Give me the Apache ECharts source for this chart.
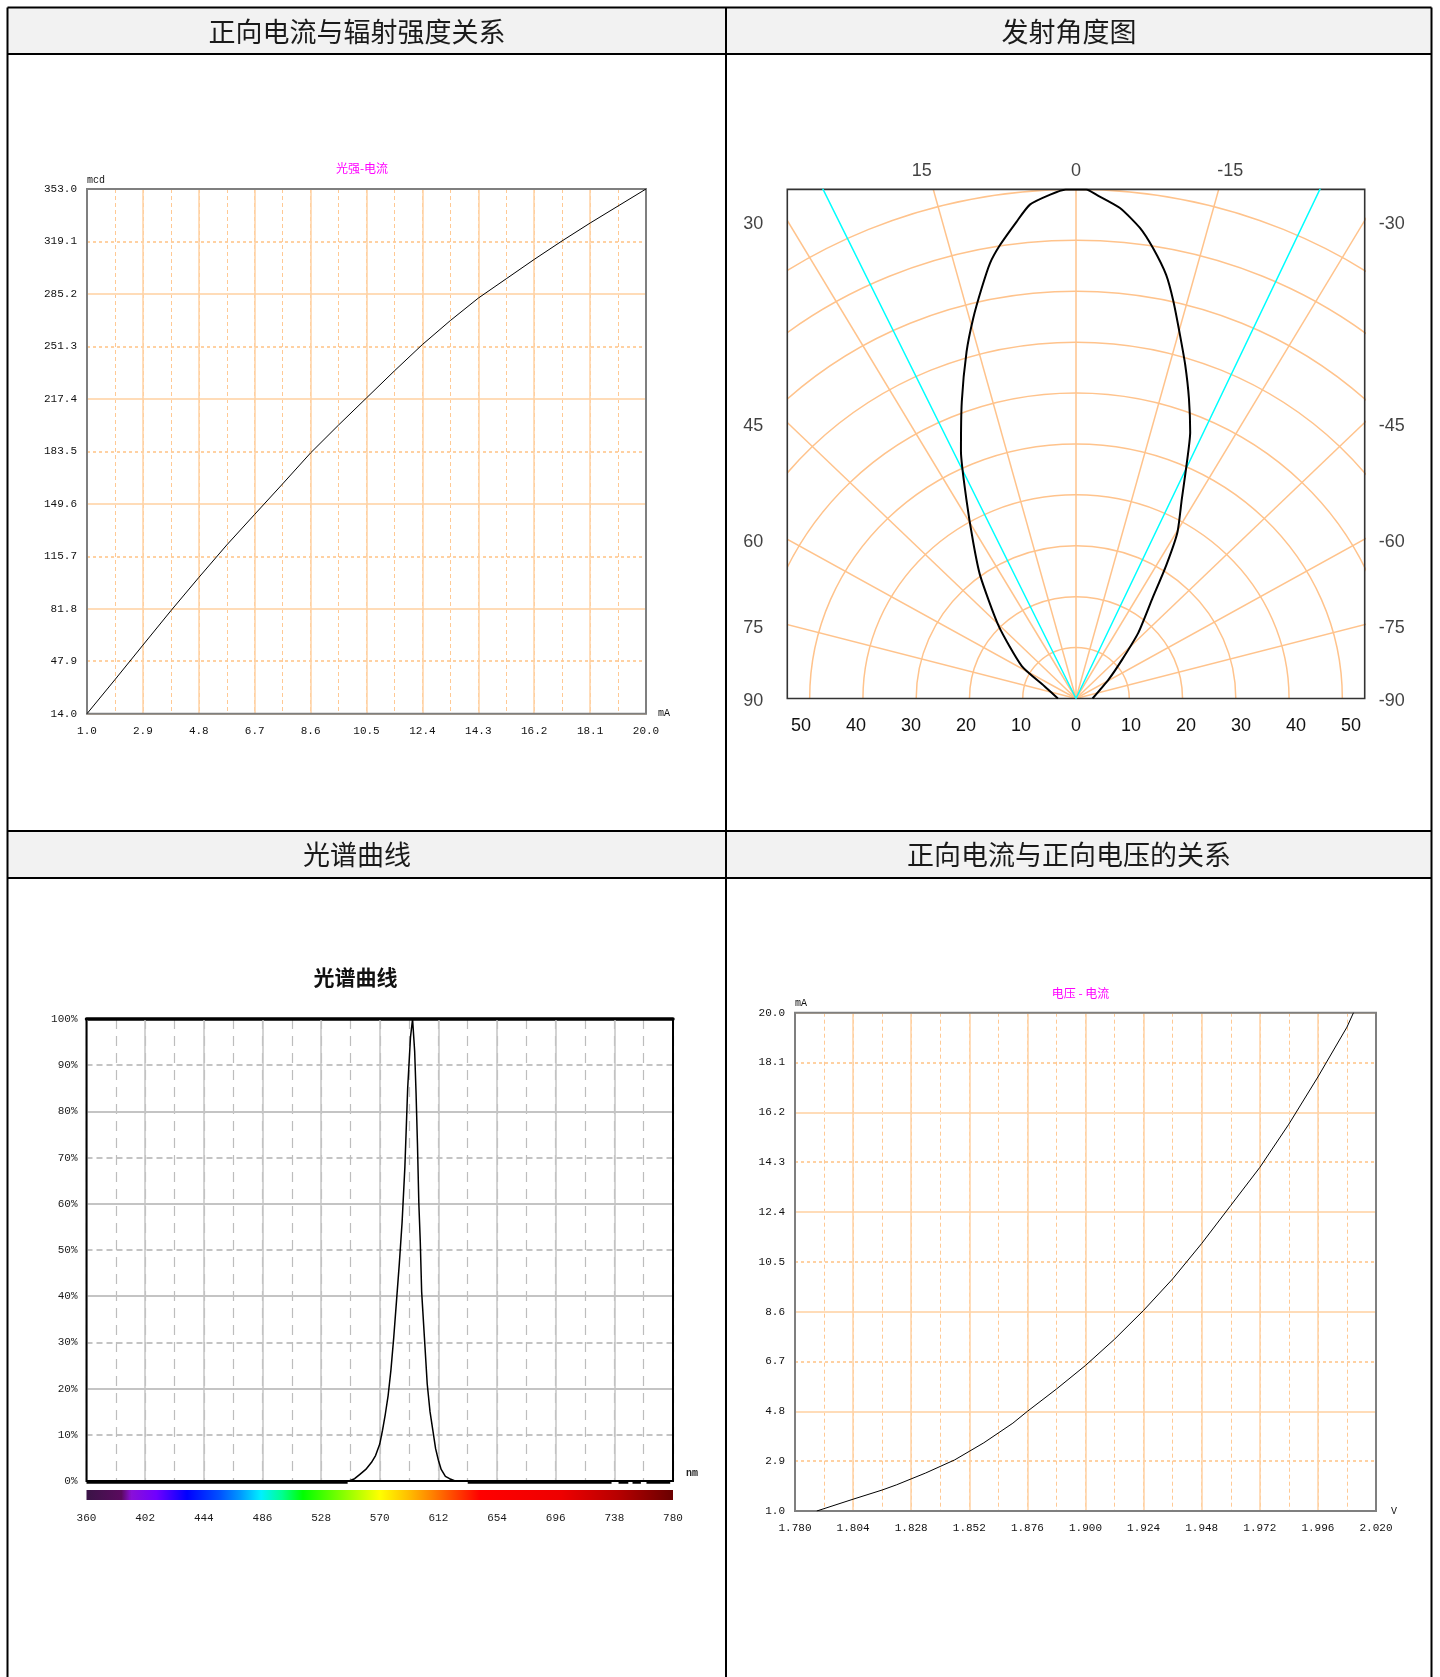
<!DOCTYPE html>
<html><head><meta charset="utf-8">
<script src="https://cdn.jsdelivr.net/npm/echarts@6/dist/echarts.min.js"></script>
<style>html,body{margin:0;padding:0;background:#fff;}#c{width:1440px;height:1677px;}</style>
</head><body><div id="c"></div>
<script>
// ---------- Chart 1: 正向电流与辐射强度关系 (光强-电流) ----------
const c1Current   = [1.0, 1.95, 2.9, 3.85, 4.8, 5.75, 6.7, 7.65, 8.6, 9.55, 10.5, 11.45, 12.4, 13.35, 14.3, 15.25, 16.2, 17.15, 18.1, 19.05, 20.0];
const c1Intensity = [14.0, 36.0, 58.3, 80.5, 102.0, 123.0, 142.8, 162.5, 182.5, 200.5, 218.0, 235.5, 252.5, 268.0, 282.5, 295.0, 307.5, 319.5, 331.0, 342.0, 353.0];
const c1XTickLabels = ['1.0','2.9','4.8','6.7','8.6','10.5','12.4','14.3','16.2','18.1','20.0'];
const c1YTickLabels = ['14.0','47.9','81.8','115.7','149.6','183.5','217.4','251.3','285.2','319.1','353.0'];

// ---------- Chart 2: 发射角度图 ----------
const beamAngles    = [-90, -58.5, -48.5, -42.2, -36.2, -33, -30.3, -26.9, -24.4, -22.3, -19.8, -17.4, -15.3, -13.2, -11.5, -9.3, -7.4, -4.9, -2.25, -1.1, 0, 1.1, 2.8, 5.1, 6.8, 9.1, 10.7, 12.4, 14.5, 16.8, 20.2, 24, 27.7, 32.2, 36.7, 45.6, 58, 67.8, 90];
const beamIntensity = [3.1, 7.2, 11.6, 17.4, 24.2, 31, 37.7, 43.9, 50.2, 56.5, 62.6, 68.6, 74, 80.1, 84.9, 89.6, 93.2, 96.7, 99, 100, 100, 100, 99.1, 97.4, 94.3, 90.2, 87, 82.5, 77.1, 71.1, 62.1, 53.1, 44.3, 36.2, 30.1, 20.3, 12, 6.4, 3.4];
const beamEdgeAngles = [25.4, -24.6];
const ringRadii = [10, 20, 30, 40, 50, 60, 70, 80, 90, 100];
const rayAngles = [-75, -60, -45, -30, -15, 0, 15, 30, 45, 60, 75];
const polarBottomLabels = ['50','40','30','20','10','0','10','20','30','40','50'];
const polarTopLabels   = ['15','0','-15'];
const polarLeftLabels  = ['30','45','60','75','90'];
const polarRightLabels = ['-30','-45','-60','-75','-90'];

// ---------- Chart 3: 光谱曲线 ----------
const specWavelength = [360, 400, 450, 500, 540, 548, 552, 556, 560, 564, 567, 570, 572, 574, 576, 578, 580, 582, 584, 586, 588, 590, 592, 593.5, 595, 596, 597, 598, 599, 600, 602, 604, 606, 608, 610, 612, 614, 617, 620, 624, 630, 680, 730, 780];
const specPercent    = [0, 0, 0, 0, 0, 0, 0.5, 1.5, 2.5, 4, 5.5, 8, 11, 14.5, 18.5, 24, 31, 39, 47, 56, 68, 85, 96, 100, 93, 84, 73, 60, 52, 41, 31, 21, 15, 11, 7, 4.5, 2.5, 1, 0.5, 0, 0, 0, 0, 0];
const specFloorRuns  = [[360, 547], [633, 736], [741, 748], [751, 757], [761, 778]];
const specXTickLabels = ['360','402','444','486','528','570','612','654','696','738','780'];
const specYTickLabels = ['0%','10%','20%','30%','40%','50%','60%','70%','80%','90%','100%'];
const specBarColors = [[360,'#3a1446'],[385,'#5a0a5e'],[392,'#8a10d8'],[410,'#7000ff'],[432,'#0000ff'],[455,'#0050ff'],[470,'#0098ff'],[485,'#00f0ff'],[500,'#00ff90'],[515,'#00ff00'],[545,'#8cff00'],[570,'#ffff00'],[590,'#ffc000'],[608,'#ff8000'],[622,'#ff4a00'],[642,'#ff0000'],[700,'#ee0000'],[740,'#b80000'],[780,'#6a0000']];

// ---------- Chart 4: 正向电流与正向电压的关系 (电压-电流) ----------
const vfVoltage = [1.789, 1.804, 1.816, 1.822, 1.834, 1.846, 1.858, 1.870, 1.876, 1.888, 1.900, 1.912, 1.924, 1.936, 1.948, 1.960, 1.972, 1.984, 1.996, 2.008, 2.0107];
const vfCurrent = [1.0, 1.45, 1.8, 2.0, 2.45, 2.95, 3.6, 4.35, 4.8, 5.65, 6.55, 7.55, 8.65, 9.85, 11.2, 12.65, 14.1, 15.75, 17.55, 19.45, 20.0];
const c4XTickLabels = ['1.780','1.804','1.828','1.852','1.876','1.900','1.924','1.948','1.972','1.996','2.020'];
const c4YTickLabels = ['1.0','2.9','4.8','6.7','8.6','10.5','12.4','14.3','16.2','18.1','20.0'];

// ================= build =================
const MONO = 'Liberation Mono', SANS = 'Liberation Sans', CJK = 'Noto Sans CJK SC';
const chart = echarts.init(document.getElementById('c'), null, {renderer: 'canvas', width: 1440, height: 1677});
const grids = [], xAxes = [], yAxes = [], series = [];
const addGrid = g => (grids.push(g), grids.length - 1);
const addX = a => (xAxes.push(a), xAxes.length - 1);
const addY = a => (yAxes.push(a), yAxes.length - 1);
function rangeOf(labels) {
  const a = parseFloat(labels[0]), b = parseFloat(labels[labels.length - 1]);
  return {min: a, max: b, span: +(b - a).toFixed(6), step: +((b - a) / (labels.length - 1)).toFixed(6)};
}
const labelFrom = (labels, step, base) => v => { const i = Math.round((v - (base || 0)) / step); return labels[i] !== undefined ? labels[i] : ''; };
const hidden = {axisLine: {show: false}, axisTick: {show: false}, axisLabel: {show: false}, splitLine: {show: false}};

function labChart(cfg) {
  const gi = addGrid({left: cfg.left, top: cfg.top, width: cfg.width, height: cfg.height, show: true, borderColor: '#7f7f7f', borderWidth: 2, backgroundColor: 'transparent', z: 2});
  const rx = rangeOf(cfg.xLabels), ry = rangeOf(cfg.yLabels);
  const lbl = {fontFamily: MONO, fontSize: 11, color: '#111', showMinLabel: true, showMaxLabel: true, hideOverlap: false};
  addX({type: 'value', gridIndex: gi, position: 'top', min: 0, max: rx.span, interval: +(rx.step / 2).toFixed(6),
    axisLine: {show: false, onZero: false}, axisTick: {show: false}, axisLabel: {show: false},
    splitLine: {show: true, lineStyle: {color: '#ffc994', width: 1, type: [4, 3]}}, z: 0});
  const xMain = addX({type: 'value', gridIndex: gi, position: 'bottom', min: 0, max: rx.span, interval: rx.step,
    axisLine: {show: false, onZero: false}, axisTick: {show: false},
    axisLabel: Object.assign({margin: cfg.xMargin, formatter: labelFrom(cfg.xLabels, rx.step)}, lbl),
    splitLine: {show: true, lineStyle: {color: '#ffd2a4', width: 1.5}},
    name: cfg.xName, nameLocation: 'end', nameGap: cfg.xNameGap,
    nameTextStyle: {fontFamily: MONO, fontSize: 10, color: '#111', align: 'left', verticalAlign: 'middle', padding: cfg.xNamePad}, z: 1});
  const yMain = addY({type: 'value', gridIndex: gi, position: 'left', min: 0, max: ry.span, interval: ry.step,
    axisLine: {show: false, onZero: false}, axisTick: {show: false},
    axisLabel: Object.assign({margin: 10, formatter: labelFrom(cfg.yLabels, ry.step)}, lbl),
    splitLine: {show: true, lineStyle: {color: '#ffd1a2', width: 2, type: [3, 3]}},
    name: cfg.yName, nameLocation: 'end', nameGap: 4,
    nameTextStyle: {fontFamily: MONO, fontSize: 10, color: '#111', align: 'left', verticalAlign: 'bottom'}, z: 0});
  addY({type: 'value', gridIndex: gi, position: 'right', min: 0, max: ry.span, interval: +(ry.step * 2).toFixed(6),
    axisLine: {show: false, onZero: false}, axisTick: {show: false}, axisLabel: {show: false},
    splitLine: {show: true, lineStyle: {color: '#ffdcb8', width: 2}}, z: 1});
  series.push({type: 'line', xAxisIndex: xMain, yAxisIndex: yMain, symbol: 'none', silent: true, z: 5,
    data: cfg.xs.map((x, i) => [+(x - rx.min).toFixed(6), +(cfg.ys[i] - ry.min).toFixed(6)]),
    lineStyle: {color: '#000', width: 1}});
}

// Chart 1
labChart({left: 87, top: 189, width: 559, height: 524.7, xLabels: c1XTickLabels, yLabels: c1YTickLabels,
  xs: c1Current, ys: c1Intensity, xName: 'mA', xNameGap: 12, xNamePad: [0, 0, 4, 0], yName: 'mcd', xMargin: 12});
// Chart 4
labChart({left: 795, top: 1012.7, width: 581, height: 498.3, xLabels: c4XTickLabels, yLabels: c4YTickLabels,
  xs: vfVoltage, ys: vfCurrent, xName: 'V', xNameGap: 15, xNamePad: [0, 0, 6, 0], yName: 'mA', xMargin: 12});

// Chart 2: radiation pattern drawn in a cartesian grid
const polarHalfWidth = 54.2, polarMax = 100;
const pg = addGrid({left: 787.3, top: 189.4, width: 577.4, height: 509.1, show: true, borderColor: '#333', borderWidth: 1.6, backgroundColor: 'transparent', z: 2});
const px = addX(Object.assign({type: 'value', gridIndex: pg, show: false, min: -polarHalfWidth, max: polarHalfWidth}, hidden));
const py = addY(Object.assign({type: 'value', gridIndex: pg, show: false, min: 0, max: polarMax}, hidden));
const pgl = addGrid({left: 801, top: 189.4, width: 550, height: 509.1, show: false});
addX({type: 'value', gridIndex: pgl, position: 'bottom', min: -50, max: 50, interval: 10,
  axisLine: {show: false, onZero: false}, axisTick: {show: false}, splitLine: {show: false},
  axisLabel: {fontFamily: SANS, fontSize: 18, color: '#111', margin: 19, showMinLabel: true, showMaxLabel: true, formatter: labelFrom(polarBottomLabels, 10, -50)}});
addY(Object.assign({type: 'value', gridIndex: pgl, show: false, min: 0, max: 100}, hidden));
const toXY = (deg, r) => { const a = deg * Math.PI / 180; return [-r * Math.sin(a), r * Math.cos(a)]; };
const gridOrange = '#ffc38c';
series.push({type: 'custom', xAxisIndex: px, yAxisIndex: py, clip: true, silent: true, z: 1,
  data: ringRadii.map(r => [0, 0, r]), encode: {x: 0, y: 1},
  renderItem: (p, api) => { const r = api.value(2), c = api.coord([0, 0]), s = api.size([r, r]);
    return {type: 'ellipse', shape: {cx: c[0], cy: c[1], rx: s[0], ry: s[1]}, style: {fill: 'none', stroke: gridOrange, lineWidth: 1.5}}; }});
series.push({type: 'custom', xAxisIndex: px, yAxisIndex: py, clip: true, silent: true, z: 1,
  data: rayAngles.map(a => [0, 0, a]), encode: {x: 0, y: 1},
  renderItem: (p, api) => { const c = api.coord([0, 0]), e = api.coord(toXY(api.value(2), 300));
    return {type: 'line', shape: {x1: c[0], y1: c[1], x2: e[0], y2: e[1]}, style: {stroke: gridOrange, lineWidth: 1.5}}; }});
series.push({type: 'line', xAxisIndex: px, yAxisIndex: py, symbol: 'none', silent: true, clip: true, z: 3,
  data: [toXY(beamEdgeAngles[0], 150), [0, 0], toXY(beamEdgeAngles[1], 150)], lineStyle: {color: '#00ffff', width: 1.5}});
series.push({type: 'line', xAxisIndex: px, yAxisIndex: py, symbol: 'none', silent: true, clip: true, z: 4, smooth: 0.2,
  data: beamAngles.map((a, i) => toXY(a, beamIntensity[i])), lineStyle: {color: '#000', width: 2}});
const polarLabelData = [];
polarLeftLabels.forEach(t => { const a = parseFloat(t) * Math.PI / 180;
  polarLabelData.push({value: [-polarHalfWidth, polarHalfWidth * Math.cos(a) / Math.sin(a)], label: {position: 'left', distance: 24, offset: [0, 3], formatter: t}}); });
polarRightLabels.forEach(t => { const a = Math.abs(parseFloat(t)) * Math.PI / 180;
  polarLabelData.push({value: [polarHalfWidth, polarHalfWidth * Math.cos(a) / Math.sin(a)], label: {position: 'right', distance: 14, offset: [0, 3], formatter: t}}); });
polarTopLabels.forEach(t => { const a = parseFloat(t) * Math.PI / 180;
  polarLabelData.push({value: [-108 * Math.tan(a), polarMax], label: {position: 'top', distance: 9, formatter: t}}); });
series.push({type: 'scatter', xAxisIndex: px, yAxisIndex: py, symbolSize: 0, clip: false, silent: true, z: 6,
  data: polarLabelData, label: {show: true, fontFamily: SANS, fontSize: 18, color: '#111'}});

// Chart 3: spectrum
const sx = rangeOf(specXTickLabels), sy = rangeOf(specYTickLabels);
const sg = addGrid({left: 86.5, top: 1019, width: 586.5, height: 462, show: true, borderColor: '#000', borderWidth: 2, backgroundColor: 'transparent', z: 2});
addX({type: 'value', gridIndex: sg, position: 'top', min: 0, max: sx.span, interval: sx.step / 2,
  axisLine: {show: true, onZero: false, lineStyle: {color: '#000', width: 3.5}}, axisTick: {show: false}, axisLabel: {show: false},
  splitLine: {show: true, lineStyle: {color: '#bdbdbd', width: 1.2, type: [10, 7]}}, z: 0});
const sxMain = addX({type: 'value', gridIndex: sg, position: 'bottom', min: 0, max: sx.span, interval: sx.step,
  axisLine: {show: false, onZero: false}, axisTick: {show: false}, axisLabel: {show: false},
  splitLine: {show: true, lineStyle: {color: '#c4c4c4', width: 1.5}},
  name: 'nm', nameLocation: 'end', nameGap: 13,
  nameTextStyle: {fontFamily: MONO, fontSize: 10, fontWeight: 'bold', color: '#222', align: 'left', verticalAlign: 'bottom', padding: [0, 0, 3, 0]}, z: 1});
const syMain = addY({type: 'value', gridIndex: sg, position: 'left', min: 0, max: sy.span, interval: sy.step,
  axisLine: {show: false, onZero: false}, axisTick: {show: false},
  axisLabel: {fontFamily: MONO, fontSize: 11, color: '#1a1a1a', margin: 9, showMinLabel: true, showMaxLabel: true, formatter: labelFrom(specYTickLabels, sy.step)},
  splitLine: {show: true, lineStyle: {color: '#c4c4c4', width: 2, type: [6, 4]}}, z: 0});
addY({type: 'value', gridIndex: sg, position: 'right', min: 0, max: sy.span, interval: sy.step * 2,
  axisLine: {show: false, onZero: false}, axisTick: {show: false}, axisLabel: {show: false},
  splitLine: {show: true, lineStyle: {color: '#c4c4c4', width: 2}}, z: 1});
series.push({type: 'line', xAxisIndex: sxMain, yAxisIndex: syMain, symbol: 'none', silent: true, z: 5,
  data: specWavelength.map((w, i) => [+(w - sx.min).toFixed(3), specPercent[i]]), lineStyle: {color: '#000', width: 1.5}});
series.push({type: 'custom', xAxisIndex: sxMain, yAxisIndex: syMain, silent: true, z: 6,
  data: specFloorRuns.map(r => [r[0] - sx.min, 0, r[1] - sx.min]), encode: {x: 0, y: 1},
  renderItem: (p, api) => { const a = api.coord([api.value(0), 0]), b = api.coord([api.value(2), 0]);
    return {type: 'line', shape: {x1: a[0], y1: a[1] + 1, x2: b[0], y2: b[1] + 1}, style: {stroke: '#000', lineWidth: 3.5}}; }});
// colour bar
const bg = addGrid({left: 86.5, top: 1490, width: 586.5, height: 10, show: false});
const bx = addX({type: 'value', gridIndex: bg, position: 'bottom', min: 0, max: sx.span, interval: sx.step,
  axisLine: {show: false, onZero: false}, axisTick: {show: false}, splitLine: {show: false},
  axisLabel: {fontFamily: MONO, fontSize: 11, color: '#1a1a1a', margin: 13, showMinLabel: true, showMaxLabel: true, formatter: labelFrom(specXTickLabels, sx.step)}});
const by = addY(Object.assign({type: 'value', gridIndex: bg, show: false, min: 0, max: 1}, hidden));
const barStops = specBarColors.map(s => ({offset: (s[0] - sx.min) / sx.span, color: s[1]}));
series.push({type: 'custom', xAxisIndex: bx, yAxisIndex: by, silent: true, z: 2,
  data: [[0, 1, sx.span]], encode: {x: 0, y: 1},
  renderItem: (p, api) => { const a = api.coord([0, 1]), b = api.coord([api.value(2), 0]);
    return {type: 'rect', shape: {x: a[0], y: a[1], width: b[0] - a[0], height: b[1] - a[1]},
      style: {fill: {type: 'linear', x: 0, y: 0, x2: 1, y2: 0, colorStops: barStops}}}; }});

// ---------- table frame, headers, chart titles ----------
const L = 7.5, M = 726, R = 1431.5, B = 1677;
const line = (x1, y1, x2, y2) => ({type: 'line', shape: {x1, y1, x2, y2}, style: {stroke: '#000', lineWidth: 2}, z: 20, silent: true});
const text = (x, y, t, size, color, weight) => ({type: 'text', x, y, z: 21, silent: true,
  style: {text: t, fontFamily: CJK, fontSize: size, fill: color, fontWeight: weight || 'normal', align: 'center', verticalAlign: 'middle'}});
const graphic = [
  {type: 'rect', shape: {x: L, y: 7.5, width: R - L, height: 46.5}, style: {fill: '#f2f2f2'}, z: 19, silent: true},
  {type: 'rect', shape: {x: L, y: 831, width: R - L, height: 47}, style: {fill: '#f2f2f2'}, z: 19, silent: true},
  line(L, 7.5, R, 7.5), line(L, 54, R, 54), line(L, 831, R, 831), line(L, 878, R, 878),
  line(L, 7.5, L, B), line(M, 7.5, M, B), line(R, 7.5, R, B),
  text(357, 31.5, '正向电流与辐射强度关系', 27, '#1a1a1a'),
  text(1069, 31.5, '发射角度图', 27, '#1a1a1a'),
  text(357, 855, '光谱曲线', 27, '#1a1a1a'),
  text(1069, 855, '正向电流与正向电压的关系', 27, '#1a1a1a'),
  text(362, 168.3, '光强-电流', 12, '#ff00ff'),
  text(1080.5, 993.3, '电压 - 电流', 12, '#ff00ff'),
  text(355.5, 977, '光谱曲线', 21, '#111', 'bold')
];

chart.setOption({animation: false, backgroundColor: '#fff', grid: grids, xAxis: xAxes, yAxis: yAxes, series, graphic});
</script></body></html>
